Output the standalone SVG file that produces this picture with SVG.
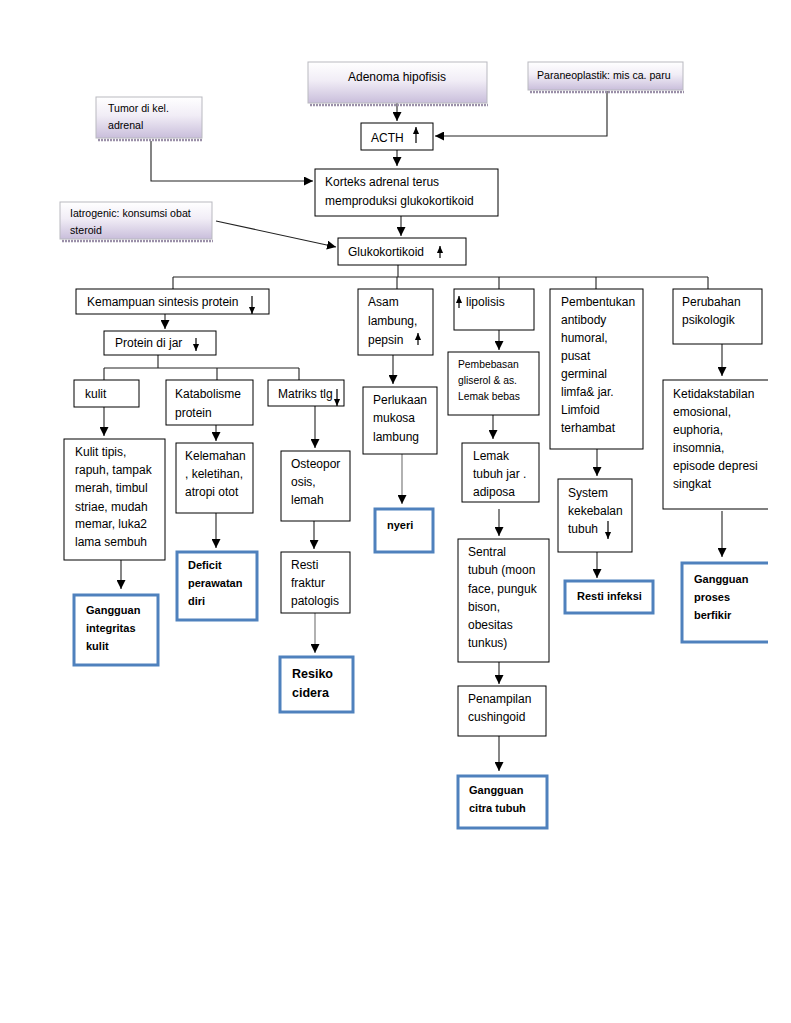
<svg xmlns="http://www.w3.org/2000/svg" width="791" height="1023" viewBox="0 0 791 1023">
<defs>
<linearGradient id="sg" x1="0" y1="0" x2="0" y2="1">
<stop offset="0" stop-color="#ffffff"/>
<stop offset="0.45" stop-color="#f1edf6"/>
<stop offset="1" stop-color="#c9bedb"/>
</linearGradient>
<marker id="ah" markerUnits="userSpaceOnUse" markerWidth="9" markerHeight="9" viewBox="0 0 9 9" refX="9" refY="4.5" orient="auto">
<path d="M0,0 L9,4.5 L0,9 z" fill="#000"/>
</marker>
<marker id="sa" markerUnits="userSpaceOnUse" markerWidth="7" markerHeight="8" viewBox="0 0 8 7" refX="8" refY="3.5" orient="auto">
<path d="M0,0 L8,3.5 L0,7 z" fill="#000"/>
</marker>
<clipPath id="pg"><rect x="0" y="0" width="768" height="1023"/></clipPath>
<style>
.bx{fill:#fff;stroke:#000;stroke-width:1}
.nd{fill:#fff;stroke:#4f81bd;stroke-width:3}
.sh{fill:url(#sg);stroke:#b9b9c0;stroke-width:1}
.shd{stroke:#9a8fa8;stroke-width:2.5;stroke-dasharray:2 1;fill:none}
.t{font-family:"Liberation Sans",Arial,sans-serif;font-size:12px;fill:#000}
.ts{font-size:10.6px}
.tp{font-size:10.3px}
.tb{font-weight:bold;font-size:11px}
.tr{font-weight:bold;font-size:12.5px}
.ln{stroke:#222;stroke-width:1.1;fill:none}
.lg{stroke:#888;stroke-width:1.3;fill:none}
.ia{stroke:#000;stroke-width:1.2;fill:none}
</style>
</defs>
<rect width="791" height="1023" fill="#fff"/>

<g id="connectors">
<path class="ln" d="M397,103 V121" marker-end="url(#ah)"/>
<path class="ln" d="M607,91 V136 H435" marker-end="url(#ah)"/>
<path class="ln" d="M397,150 V166" marker-end="url(#ah)"/>
<path class="ln" d="M151,141 V181 H313" marker-end="url(#ah)"/>
<path class="ln" d="M216,221 L336,247" marker-end="url(#ah)"/>
<path class="ln" d="M401,216 V236" marker-end="url(#ah)"/>
<path class="ln" d="M398,265 V277 M173,277 H708 M173,277 V289 M397,277 V289 M499,277 V289 M596,277 V289 M708,277 V289"/>
<path class="ln" d="M165,314 V329" marker-end="url(#ah)"/>
<path class="ln" d="M158,355 V368 M104,368 H299 M104,368 V380 M217,368 V380 M299,368 V380"/>
<path class="ln" d="M104,407 V436" marker-end="url(#ah)"/>
<path class="ln" d="M121,560 V589" marker-end="url(#ah)"/>
<path class="ln" d="M216,425 V441" marker-end="url(#ah)"/>
<path class="ln" d="M216,513 V548" marker-end="url(#ah)"/>
<path class="ln" d="M315,406 V448" marker-end="url(#ah)"/>
<path class="ln" d="M314,521 V549" marker-end="url(#ah)"/>
<path class="lg" d="M315,613 V653" marker-end="url(#ah)"/>
<path class="ln" d="M393,355 V384" marker-end="url(#ah)"/>
<path class="lg" d="M402,454 V504" marker-end="url(#ah)"/>
<path class="ln" d="M499,330 V350" marker-end="url(#ah)"/>
<path class="ln" d="M493,415 V439" marker-end="url(#ah)"/>
<path class="ln" d="M499,509 V536" marker-end="url(#ah)"/>
<path class="ln" d="M499,662 V684" marker-end="url(#ah)"/>
<path class="ln" d="M499,736 V771" marker-end="url(#ah)"/>
<path class="ln" d="M597,449 V476" marker-end="url(#ah)"/>
<path class="ln" d="M597,552 V578" marker-end="url(#ah)"/>
<path class="ln" d="M722,344 V376" marker-end="url(#ah)"/>
<path class="ln" d="M722,511 V557" marker-end="url(#ah)"/>
</g>

<g id="adenoma">
<path class="shd" d="M310,105 H488"/>
<rect class="sh" x="308" y="62" width="179" height="41"/>
<text class="t" x="397" y="81" text-anchor="middle">Adenoma hipofisis</text>
</g>
<g id="paraneoplastik">
<path class="shd" d="M530,92 H684"/>
<rect class="sh" x="528" y="62" width="155" height="28"/>
<text class="t ts" x="537" y="79">Paraneoplastik: mis ca. paru</text>
</g>
<g id="tumor">
<path class="shd" d="M98,140 H203"/>
<rect class="sh" x="96" y="97" width="106" height="41"/>
<text class="t ts" x="108" y="112">Tumor di kel.</text>
<text class="t ts" x="108" y="129">adrenal</text>
</g>
<g id="iatrogenic">
<path class="shd" d="M62,241 H213"/>
<rect class="sh" x="60" y="202" width="152" height="37"/>
<text class="t ts" x="70" y="217">Iatrogenic: konsumsi obat</text>
<text class="t ts" x="70" y="234">steroid</text>
</g>
<g id="acth">
<rect class="bx" x="361" y="123" width="72" height="27"/>
<text class="t" x="371" y="142">ACTH</text>
<path class="ia" d="M416,143 V127" marker-end="url(#sa)"/>
</g>
<g id="korteks">
<rect class="bx" x="315" y="169" width="183" height="47"/>
<text class="t" x="325" y="186">Korteks adrenal terus</text>
<text class="t" x="325" y="205">memproduksi glukokortikoid</text>
</g>
<g id="glukokortikoid">
<rect class="bx" x="338" y="238" width="128" height="27"/>
<text class="t" x="348" y="256">Glukokortikoid</text>
<path class="ia" d="M440,258 V246" marker-end="url(#sa)"/>
</g>

<g id="kemampuan">
<rect class="bx" x="76" y="289" width="193" height="25"/>
<text class="t" x="87" y="306">Kemampuan sintesis protein</text>
<path class="ia" d="M252,296 V314" marker-end="url(#sa)"/>
</g>
<g id="protein">
<rect class="bx" x="104" y="331" width="112" height="24"/>
<text class="t" x="115" y="347">Protein di jar</text>
<path class="ia" d="M196,338 V351" marker-end="url(#sa)"/>
</g>
<g id="kulit">
<rect class="bx" x="74" y="380" width="65" height="27"/>
<text class="t" x="85" y="398">kulit</text>
</g>
<g id="katabolisme">
<rect class="bx" x="166" y="380" width="87" height="45"/>
<text class="t" x="175" y="398">Katabolisme</text>
<text class="t" x="175" y="417">protein</text>
</g>
<g id="matriks">
<rect class="bx" x="268" y="380" width="76" height="26"/>
<text class="t" x="278" y="398">Matriks tlg</text>
<path class="ia" d="M337,389 V406" marker-end="url(#sa)"/>
</g>
<g id="kulit-tipis">
<rect class="bx" x="64" y="439" width="101" height="121"/>
<text class="t" x="75" y="456">Kulit tipis,</text>
<text class="t" x="75" y="474">rapuh, tampak</text>
<text class="t" x="75" y="492">merah, timbul</text>
<text class="t" x="75" y="511">striae, mudah</text>
<text class="t" x="75" y="528">memar, luka2</text>
<text class="t" x="75" y="546">lama sembuh</text>
</g>
<g id="gangguan-integritas">
<rect class="nd" x="74" y="595" width="84" height="70"/>
<text class="t tb" x="86" y="614">Gangguan</text>
<text class="t tb" x="86" y="632">integritas</text>
<text class="t tb" x="86" y="650">kulit</text>
</g>
<g id="kelemahan">
<rect class="bx" x="176" y="443" width="77" height="70"/>
<text class="t" x="185" y="460">Kelemahan</text>
<text class="t" x="185" y="478">, keletihan,</text>
<text class="t" x="185" y="496">atropi otot</text>
</g>
<g id="deficit">
<rect class="nd" x="177" y="552" width="80" height="68"/>
<text class="t tb" x="188" y="569">Deficit</text>
<text class="t tb" x="188" y="587">perawatan</text>
<text class="t tb" x="188" y="605">diri</text>
</g>
<g id="osteoporosis">
<rect class="bx" x="281" y="451" width="69" height="70"/>
<text class="t" x="291" y="468">Osteopor</text>
<text class="t" x="291" y="486">osis,</text>
<text class="t" x="291" y="504">lemah</text>
</g>
<g id="resti-fraktur">
<rect class="bx" x="281" y="552" width="69" height="61"/>
<text class="t" x="291" y="569">Resti</text>
<text class="t" x="291" y="587">fraktur</text>
<text class="t" x="291" y="605">patologis</text>
</g>
<g id="resiko-cidera">
<rect class="nd" x="280" y="657" width="73" height="55"/>
<text class="t tr" x="292" y="678">Resiko</text>
<text class="t tr" x="292" y="697">cidera</text>
</g>

<g id="asam">
<rect class="bx" x="358" y="289" width="75" height="66"/>
<text class="t" x="368" y="306">Asam</text>
<text class="t" x="368" y="325">lambung,</text>
<text class="t" x="368" y="344">pepsin</text>
<path class="ia" d="M418,345 V333" marker-end="url(#sa)"/>
</g>
<g id="perlukaan">
<rect class="bx" x="363" y="387" width="74" height="67"/>
<text class="t" x="373" y="404">Perlukaan</text>
<text class="t" x="373" y="422">mukosa</text>
<text class="t" x="373" y="441">lambung</text>
</g>
<g id="nyeri">
<rect class="nd" x="375" y="509" width="58" height="43"/>
<text class="t tb" x="387" y="529">nyeri</text>
</g>

<g id="lipolisis">
<rect class="bx" x="454" y="289" width="80" height="41"/>
<path class="ia" d="M459,308 V296" marker-end="url(#sa)"/>
<text class="t" x="466" y="306">lipolisis</text>
</g>
<g id="pembebasan">
<rect class="bx" x="448" y="352" width="91" height="63"/>
<text class="t tp" x="458" y="368">Pembebasan</text>
<text class="t tp" x="458" y="384">gliserol &amp; as.</text>
<text class="t tp" x="458" y="400">Lemak bebas</text>
</g>
<g id="lemak">
<rect class="bx" x="462" y="443" width="77" height="59"/>
<text class="t" x="473" y="460">Lemak</text>
<text class="t" x="473" y="478">tubuh jar .</text>
<text class="t" x="473" y="496">adiposa</text>
</g>
<g id="sentral">
<rect class="bx" x="458" y="539" width="91" height="123"/>
<text class="t" x="468" y="556">Sentral</text>
<text class="t" x="468" y="574">tubuh (moon</text>
<text class="t" x="468" y="593">face, punguk</text>
<text class="t" x="468" y="611">bison,</text>
<text class="t" x="468" y="629">obesitas</text>
<text class="t" x="468" y="647">tunkus)</text>
</g>
<g id="penampilan">
<rect class="bx" x="458" y="686" width="88" height="50"/>
<text class="t" x="468" y="703">Penampilan</text>
<text class="t" x="468" y="721">cushingoid</text>
</g>
<g id="gangguan-citra">
<rect class="nd" x="458" y="776" width="89" height="52"/>
<text class="t tb" x="469" y="794">Gangguan</text>
<text class="t tb" x="469" y="812">citra tubuh</text>
</g>

<g id="pembentukan">
<rect class="bx" x="550" y="289" width="93" height="160"/>
<text class="t" x="561" y="306">Pembentukan</text>
<text class="t" x="561" y="324">antibody</text>
<text class="t" x="561" y="342">humoral,</text>
<text class="t" x="561" y="360">pusat</text>
<text class="t" x="561" y="378">germinal</text>
<text class="t" x="561" y="396">limfa&amp; jar.</text>
<text class="t" x="561" y="414">Limfoid</text>
<text class="t" x="561" y="432">terhambat</text>
</g>
<g id="system">
<rect class="bx" x="558" y="479" width="74" height="73"/>
<text class="t" x="568" y="497">System</text>
<text class="t" x="568" y="515">kekebalan</text>
<text class="t" x="568" y="533">tubuh</text>
<path class="ia" d="M608,521 V539" marker-end="url(#sa)"/>
</g>
<g id="resti-infeksi">
<rect class="nd" x="565" y="581" width="88" height="32"/>
<text class="t tb" x="577" y="600">Resti infeksi</text>
</g>

<g id="perubahan">
<rect class="bx" x="673" y="289" width="89" height="55"/>
<text class="t" x="682" y="306">Perubahan</text>
<text class="t" x="682" y="324">psikologik</text>
</g>
<g id="ketidakstabilan">
<rect class="bx" x="663" y="380" width="130" height="129" clip-path="url(#pg)"/>
<text class="t" x="673" y="398">Ketidakstabilan</text>
<text class="t" x="673" y="416">emosional,</text>
<text class="t" x="673" y="434">euphoria,</text>
<text class="t" x="673" y="452">insomnia,</text>
<text class="t" x="673" y="470">episode depresi</text>
<text class="t" x="673" y="488">singkat</text>
</g>
<g id="gangguan-proses">
<rect class="nd" x="682" y="563" width="110" height="79" clip-path="url(#pg)"/>
<text class="t tb" x="694" y="583">Gangguan</text>
<text class="t tb" x="694" y="601">proses</text>
<text class="t tb" x="694" y="619">berfikir</text>
</g>
</svg>
